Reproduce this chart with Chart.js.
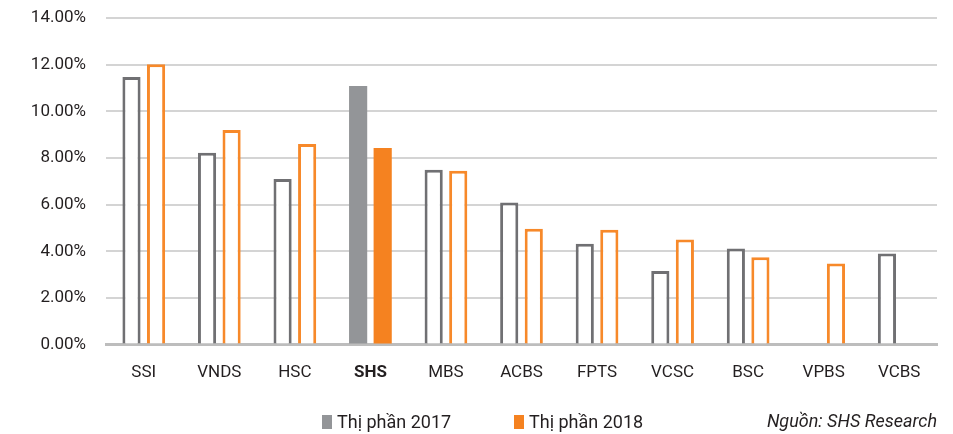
<!DOCTYPE html>
<html>
<head>
<meta charset="utf-8">
<script src="https://cdn.jsdelivr.net/npm/chart.js@4"></script>
<style>
html,body{margin:0;padding:0;background:#fff;}
#wrap{position:relative;width:953px;height:434px;}
#note{position:absolute;right:16px;top:410px;font:italic 18px Roboto, sans-serif;color:#231f20;line-height:22px;}
.lg{position:absolute;top:411px;font:18px Roboto, sans-serif;color:#231f20;line-height:22px;white-space:nowrap;}
.lg i{display:inline-block;width:10px;height:14px;vertical-align:-1px;margin-right:5px;}
</style>
</head>
<body>
<div id="wrap">
<canvas id="c" width="953" height="434"></canvas>
<div class="lg" id="lg0" style="left:322px"><i></i><span></span></div>
<div class="lg" id="lg1" style="left:514px"><i></i><span></span></div>
<div id="note">Nguồn: SHS Research</div>
</div>
<script>
const categories = ['SSI','VNDS','HSC','SHS','MBS','ACBS','FPTS','VCSC','BSC','VPBS','VCBS'];
const share2017 = [11.47, 8.22, 7.10, 11.09, 7.49, 6.09, 4.32, 3.15, 4.12, null, 3.91];
const share2018 = [12.02, 9.20, 8.60, 8.43, 7.45, 4.97, 4.92, 4.50, 3.74, 3.48, null];
const yTicks = [0, 2, 4, 6, 8, 10, 12, 14];
const seriesNames = ['Thị phần 2017', 'Thị phần 2018'];
const highlight = 'SHS';

const GRAY = '#939598', GRAY_LINE = '#707073', ORANGE = '#f58220', ORANGE_LINE = '#f7892a';
const isHi = i => categories[i] === highlight;

[GRAY, ORANGE].forEach((col, k) => {
  const el = document.getElementById('lg' + k);
  el.querySelector('i').style.background = col;
  el.querySelector('span').textContent = seriesNames[k];
});

new Chart(document.getElementById('c'), {
  type: 'bar',
  data: {
    labels: categories,
    datasets: [
      {
        label: seriesNames[0],
        data: share2017,
        backgroundColor: categories.map((c,i) => isHi(i) ? GRAY : '#ffffff'),
        borderColor: categories.map((c,i) => isHi(i) ? GRAY : GRAY_LINE),
        borderWidth: categories.map((c,i) => isHi(i) ? 0 : 3),
        borderSkipped: 'start',
        categoryPercentage: 0.65,
        barPercentage: 0.74
      },
      {
        label: seriesNames[1],
        data: share2018,
        backgroundColor: categories.map((c,i) => isHi(i) ? ORANGE : '#ffffff'),
        borderColor: categories.map((c,i) => isHi(i) ? ORANGE : ORANGE_LINE),
        borderWidth: categories.map((c,i) => isHi(i) ? 0 : 3),
        borderSkipped: 'start',
        categoryPercentage: 0.65,
        barPercentage: 0.74
      }
    ]
  },
  options: {
    responsive: false,
    animation: false,
    layout: { padding: { left: 0, right: 16, top: 18, bottom: 33 } },
    plugins: {
      tooltip: { enabled: false },
      legend: { display: false }
    },
    scales: {
      x: {
        grid: { display: false, drawTicks: false },
        border: { display: true, color: '#bdbdbd', width: 3 },
        ticks: {
          padding: 18,
          color: '#231f20',
          font: (ctx) => ({ family: 'Roboto', size: 17, weight: (ctx.index !== undefined && categories[ctx.index] === highlight) ? 'bold' : 'normal' })
        }
      },
      y: {
        min: 0, max: 14,
        afterFit: (s) => { s.width = 106; s.paddingTop = 0; s.paddingBottom = 0; },
        afterBuildTicks: (s) => { s.ticks = yTicks.map(v => ({ value: v })); },
        grid: { color: '#d4d4d4', lineWidth: 2, drawTicks: false },
        border: { display: false },
        ticks: {
          padding: 20,
          color: '#231f20',
          font: { family: 'Roboto', size: 17 },
          callback: (v) => v.toFixed(2) + '%'
        }
      }
    }
  }
});
</script>
</body>
</html>
